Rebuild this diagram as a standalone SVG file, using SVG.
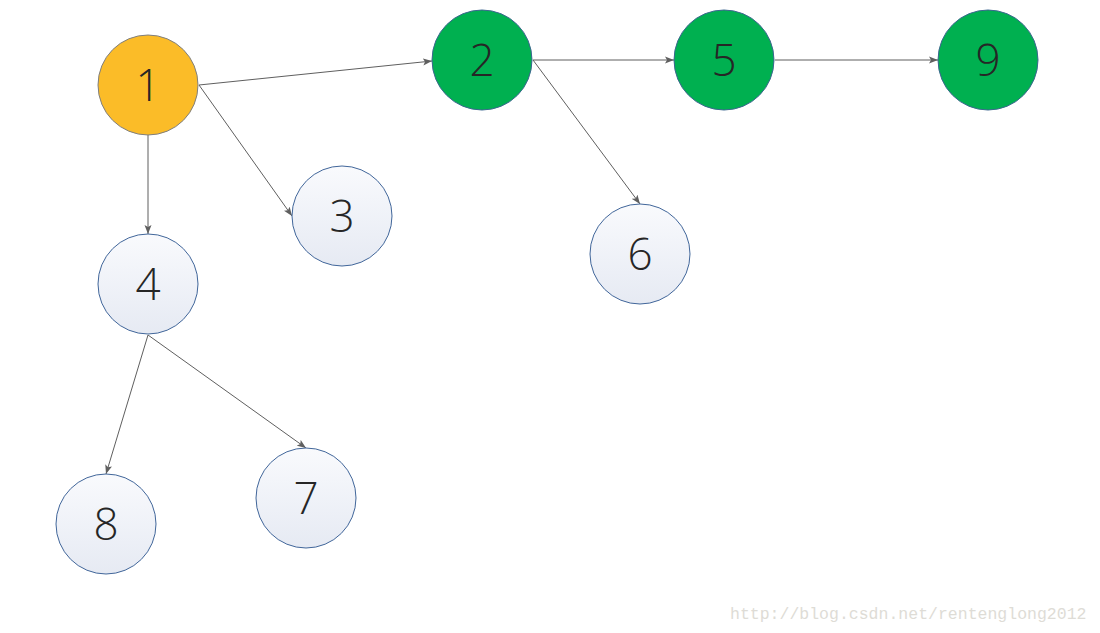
<svg xmlns="http://www.w3.org/2000/svg" width="1100" height="633" viewBox="0 0 1100 633">
<defs>
<linearGradient id="g" x1="0" y1="0" x2="0" y2="1">
<stop offset="0" stop-color="#f9fafd"/>
<stop offset="1" stop-color="#e6eaf3"/>
</linearGradient>
<marker id="ah" markerWidth="10" markerHeight="8" refX="9" refY="4" orient="auto" markerUnits="userSpaceOnUse">
<path d="M0,0.5 L9,4 L0,7.5 L2,4 Z" fill="#5f5f5f"/>
</marker>
<style>
.n{stroke-width:1}
.w{fill:url(#g);stroke:#41669a}
.gr{fill:#00b050;stroke:#3d6690}
.o{fill:#fbbc28;stroke:#7f7f7f}
.t{font-family:"Open Sans","DejaVu Sans","Liberation Sans",sans-serif;font-size:44px;font-weight:300;fill:#262626;text-anchor:middle}
.e{stroke:#5f5f5f;stroke-width:1;fill:none;marker-end:url(#ah)}
.wm{font-family:"Liberation Mono","DejaVu Sans Mono",monospace;font-size:16.5px;fill:#dedcd6}
</style>
</defs>
<rect width="1100" height="633" fill="#ffffff"/>
<g id="connectors">
<line class="e" x1="199" y1="85" x2="432" y2="61"/>
<line class="e" x1="199" y1="85" x2="292" y2="216"/>
<line class="e" x1="148" y1="135" x2="148" y2="234"/>
<line class="e" x1="533" y1="60" x2="674" y2="60"/>
<line class="e" x1="533" y1="60" x2="640" y2="204"/>
<line class="e" x1="775" y1="60" x2="938" y2="60"/>
<line class="e" x1="148" y1="335" x2="106" y2="474"/>
<line class="e" x1="148" y1="335" x2="306" y2="448"/>
</g>
<g id="node1"><circle class="n o" cx="148" cy="85" r="50"/><text class="t" x="148" y="101">1</text></g>
<g id="node2"><circle class="n gr" cx="482" cy="60" r="50"/><text class="t" x="482" y="76">2</text></g>
<g id="node5"><circle class="n gr" cx="724" cy="60" r="50"/><text class="t" x="724" y="76">5</text></g>
<g id="node9"><circle class="n gr" cx="988" cy="60" r="50"/><text class="t" x="988" y="76">9</text></g>
<g id="node3"><circle class="n w" cx="342" cy="216" r="50"/><text class="t" x="342" y="232">3</text></g>
<g id="node6"><circle class="n w" cx="640" cy="254" r="50"/><text class="t" x="640" y="270">6</text></g>
<g id="node4"><circle class="n w" cx="148" cy="284" r="50"/><text class="t" x="148" y="300">4</text></g>
<g id="node8"><circle class="n w" cx="106" cy="524" r="50"/><text class="t" x="106" y="540">8</text></g>
<g id="node7"><circle class="n w" cx="306" cy="498" r="50"/><text class="t" x="306" y="514">7</text></g>
<text class="wm" x="730" y="619">http://blog.csdn.net/rentenglong2012</text>
</svg>
